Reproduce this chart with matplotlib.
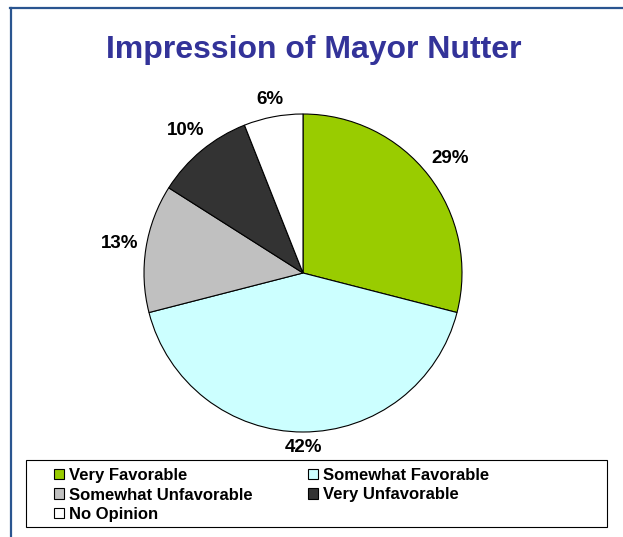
import matplotlib
matplotlib.use('agg')
import matplotlib.pyplot as plt
import numpy as np
from matplotlib.lines import Line2D
from matplotlib.patches import Rectangle

# data
labels = ['Very Favorable', 'Somewhat Favorable', 'Somewhat Unfavorable', 'Very Unfavorable', 'No Opinion']
values = [29, 42, 13, 10, 6]
colors = ['#99CC00', '#CCFFFF', '#C0C0C0', '#333333', '#FFFFFF']

W, H = 623, 537
plt.rcParams['font.family'] = ['Liberation Sans', 'DejaVu Sans']
fig = plt.figure(figsize=(W / 100, H / 100), dpi=100)

# outer frame (only top and left edges visible)
fig.add_artist(Line2D([10 / W, 1], [1 - 8 / H, 1 - 8 / H], color='#2A5590', lw=1.6))
fig.add_artist(Line2D([11 / W, 11 / W], [0, 1 - 8 / H], color='#2A5590', lw=1.6))

fig.text(314 / W, 1 - 58 / H, 'Impression of Mayor Nutter', ha='center', va='baseline',
         fontsize=23, fontweight='bold', color='#333399')

# pie
cx, cy, r = 303, 273, 159
ax = fig.add_axes([(cx - r) / W, 1 - (cy + r) / H, 2 * r / W, 2 * r / H])
wedges, texts, autotexts = ax.pie(values, colors=colors, startangle=90, counterclock=False,
                                  autopct='%d%%', pctdistance=1.0,
                                  wedgeprops=dict(edgecolor='black', linewidth=0.8))
for t in autotexts:
    t.set_fontsize(13.5)
    t.set_fontweight('bold')
ax.set_xlim(-1, 1)
ax.set_ylim(-1, 1)

# push labels "outside end": fixed gap from rim to the text box
fig.canvas.draw()
rend = fig.canvas.get_renderer()
gap = 7 / r
for t in autotexts:
    x, y = t.get_position()
    u = np.array([x, y]) / np.hypot(x, y)
    bb = t.get_window_extent(rend)
    half = (bb.width / 2 * abs(u[0]) + bb.height / 2 * abs(u[1])) / r
    t.set_position(tuple(u * (1 + gap + half)))

# legend box
fig.add_artist(Rectangle((26 / W, 1 - 527 / H), 581 / W, 67 / H, transform=fig.transFigure,
                         facecolor='white', edgecolor='black', linewidth=0.8))

# legend, row-major order like the original
order = [0, 2, 4, 1, 3]
leg = fig.legend([wedges[i] for i in order], [labels[i] for i in order], ncol=2,
                 loc='upper left', bbox_to_anchor=(54 / W, 1 - 468 / H),
                 frameon=False, prop=dict(size=12, weight='bold'),
                 handlelength=0.6, handleheight=0.6, handletextpad=0.3,
                 labelspacing=0.27, columnspacing=3.3, borderpad=0, borderaxespad=0)

fig.savefig('out.png', dpi=100)
